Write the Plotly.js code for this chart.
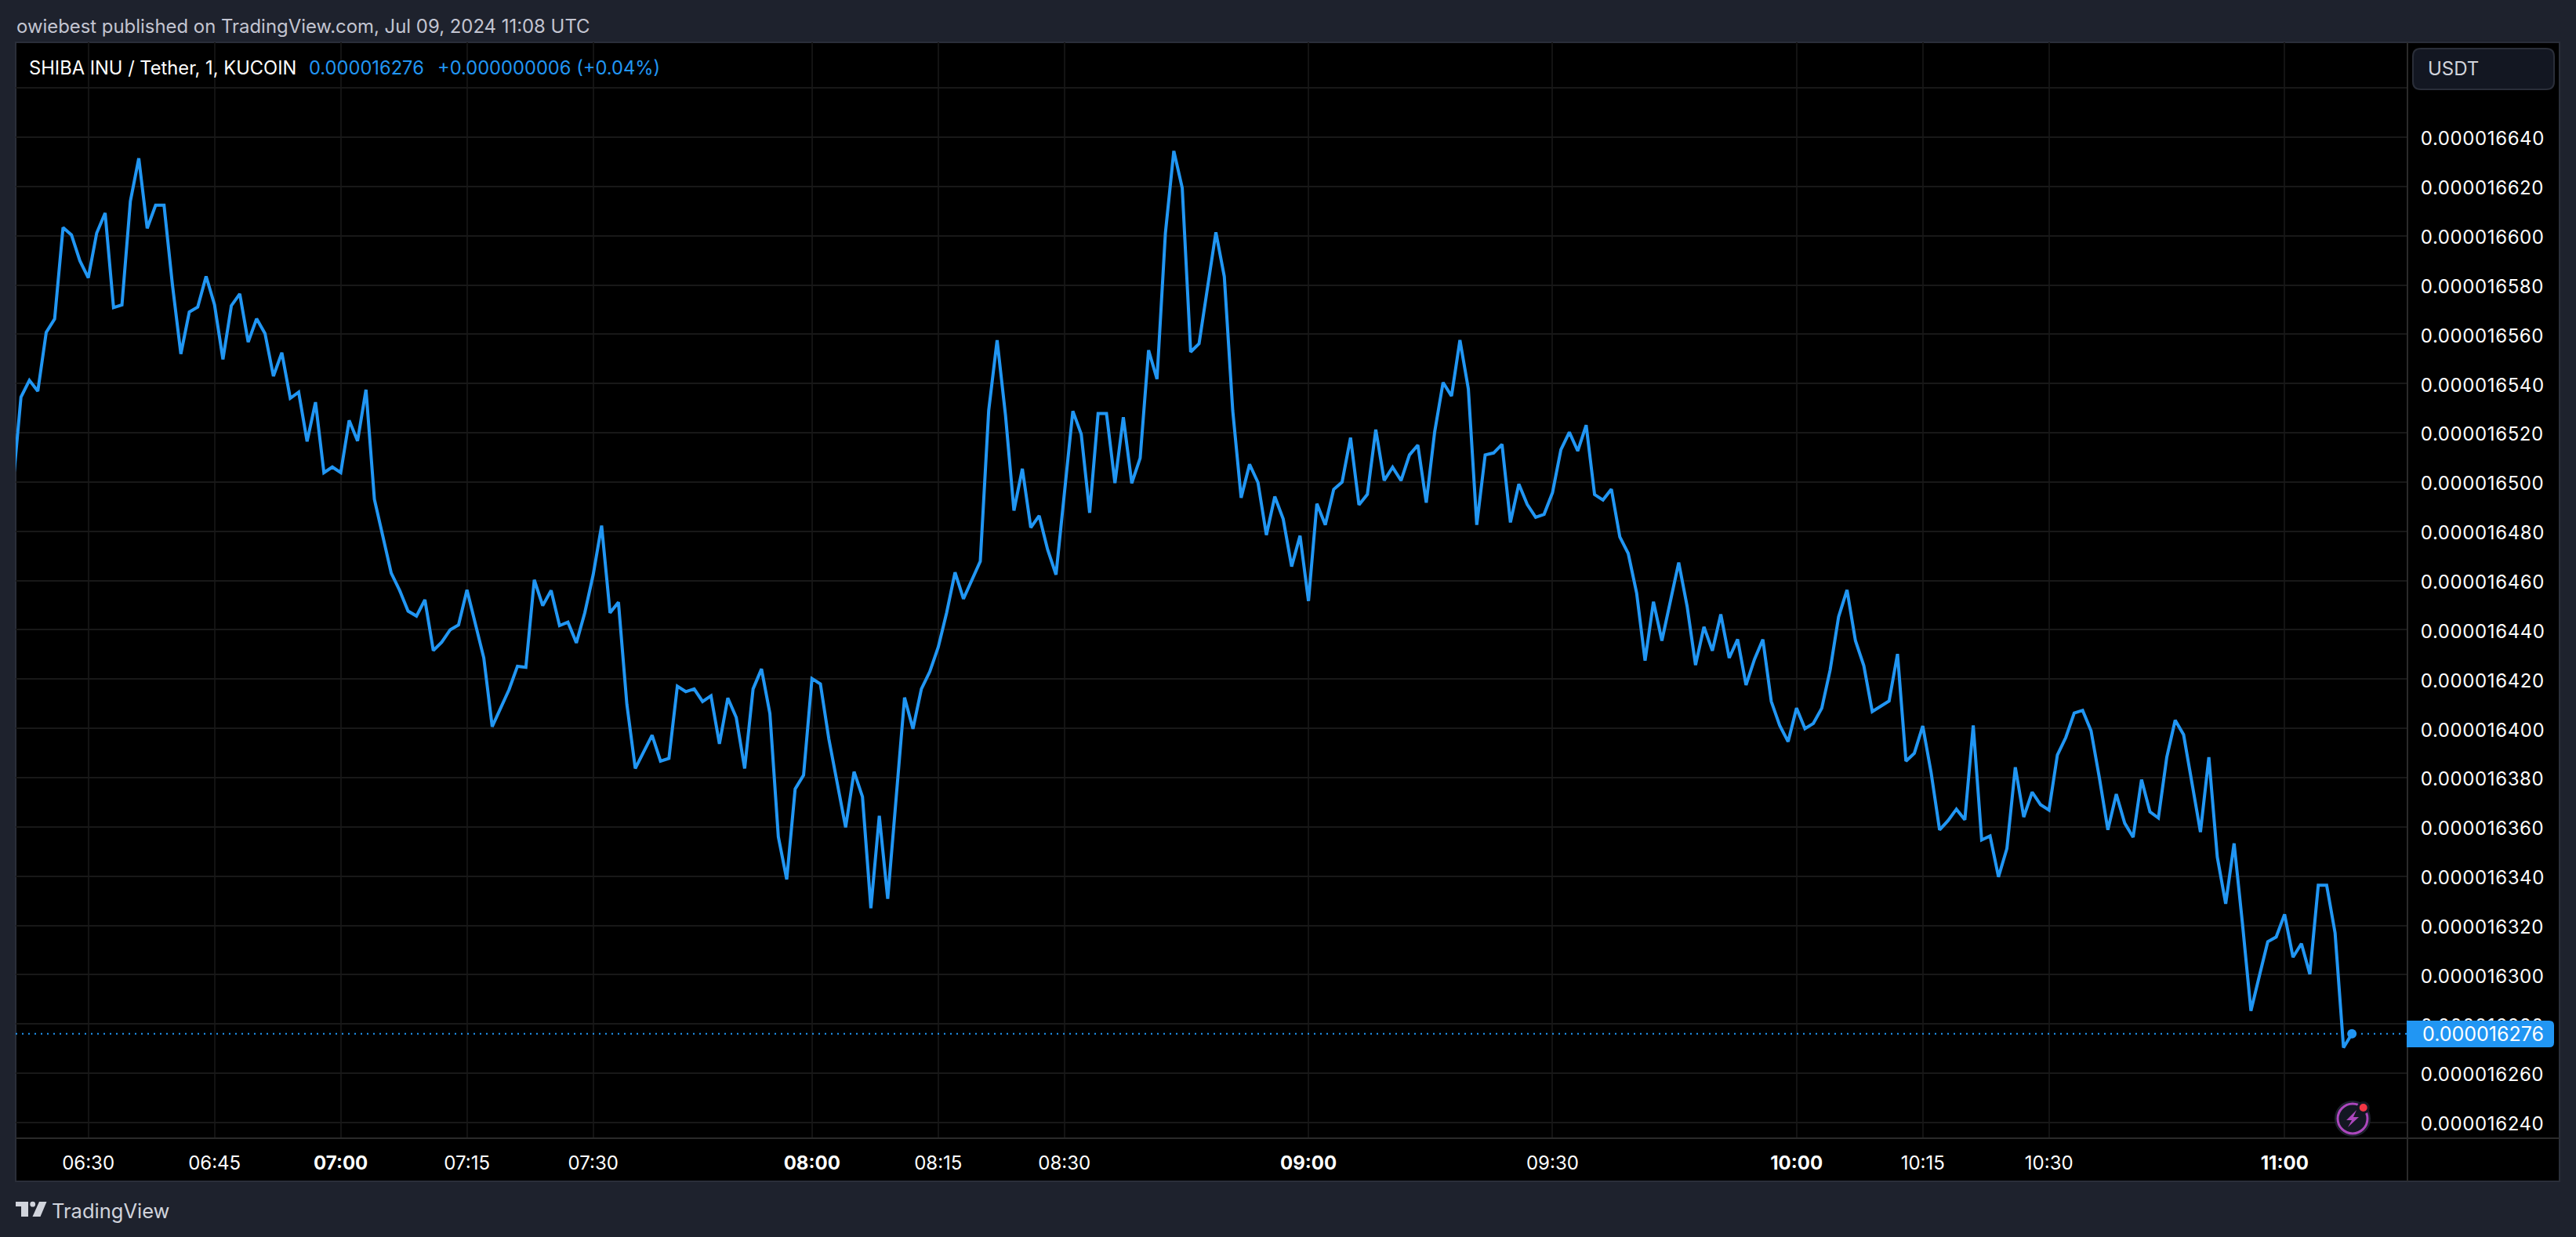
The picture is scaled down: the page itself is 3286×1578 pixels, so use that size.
<!DOCTYPE html>
<html>
<head>
<meta charset="utf-8">
<script src="https://cdn.plot.ly/plotly-3.0.1.min.js"></script>
<style>html,body{margin:0;padding:0;background:#1e222d;overflow:hidden}#chart{width:3286px;height:1578px}.ytick text{letter-spacing:.6px}</style>
</head>
<body>
<div id="chart"></div>
<script>
// Close of each 1-minute bar, in units of 1e-9 USDT
const closes = [
16497,16534.5,16541.3,16536.9,16560.8,16566.2,16603.3,16600.3,16589.8,16582.9,
16601.1,16609.2,16570.8,16571.9,16614,16631.4,16603,16612.4,16612.4,16580,
16552,16569,16571,16583.5,16572,16549.8,16571.6,16576.4,16556.8,16566.3,
16560.3,16543,16552.5,16534,16536.5,16516.5,16532.4,16503.8,16506.1,16503.8,
16525,16516.7,16537.5,16493,16478,16463,16456,16447.6,16445.6,16452.2,
16431.6,16435,16440,16442,16456.2,16442,16428.6,16400.7,16408,16415.7,
16425.2,16424.8,16460.3,16449.8,16456,16441.7,16443.1,16434.7,16446.9,16462.4,
16482.3,16446.9,16451.2,16409.8,16383.7,16390.5,16397.2,16386.7,16387.8,16417.1,
16414.9,16416,16410.9,16413.2,16393.7,16412.3,16404.4,16383.7,16416,16424.1,
16406,16356,16338.7,16375.4,16381,16420.2,16418,16395.8,16377,16359.8,
16382.4,16372.2,16327,16364.5,16330.8,16370,16412.5,16399.8,16416,16423,
16432.9,16446.9,16463.3,16452.6,16460.3,16467.8,16529,16557.6,16527,16488.4,
16505.4,16481.5,16486.3,16472.6,16462.4,16494.7,16528.8,16519.4,16487.5,16527.8,
16527.8,16499.6,16526.3,16499.5,16509.7,16553.5,16541.8,16601.1,16634.4,16619.4,
16552.8,16556.2,16578.6,16601.4,16583.4,16529,16493.6,16507.2,16499.8,16478.5,
16494.1,16485,16465.7,16478.2,16451.7,16491.2,16482.6,16497,16500,16518,
16490.7,16495,16521.3,16500.6,16506,16500.6,16511,16515,16491.6,16520.4,
16540.4,16534.9,16557.6,16537.8,16482.6,16511,16511.8,16515.3,16483.6,16499.2,
16490.9,16485.7,16486.9,16495.7,16513.1,16520.2,16512.6,16523.1,16494.9,16492.7,
16497.1,16477.7,16471,16454.9,16427.5,16451.4,16435.6,16451.7,16467.3,16449.5,
16425.7,16441.2,16431.5,16446.3,16428.6,16436.1,16417.6,16428,16436.1,16410.9,
16401.2,16394.6,16408.2,16399.9,16402,16408.2,16423.8,16445.3,16456.2,16435.6,
16425.4,16406.8,16409,16411.1,16430.2,16386.7,16389.9,16401,16381.9,16358.8,
16362.5,16367.2,16362.9,16401.2,16354.7,16356.3,16339.7,16351.2,16384.2,16364,
16374.1,16369,16366.8,16389.2,16396.3,16406.2,16407.3,16399,16379.7,16358.8,
16373.3,16361.5,16355.8,16379.2,16366.1,16363.6,16388.3,16403.3,16397.4,16378.1,
16357.9,16388.3,16347.8,16328.8,16353.3,16320.5,16285.3,16299.5,16313.4,16315.3,
16324.5,16307.1,16312.6,16300.2,16336.3,16336.3,16316.9,16270.4,16276
];
const barIndex = closes.map((_, i) => i);

const timeTickBars = [9,24,39,54,69,95,110,125,154,183,212,227,242,270];
const timeTickLabels = ['06:30','06:45','<b>07:00</b>','07:15','07:30','<b>08:00</b>','08:15','08:30','<b>09:00</b>','09:30','<b>10:00</b>','10:15','10:30','<b>11:00</b>'];

const priceTicks = [16240,16260,16280,16300,16320,16340,16360,16380,16400,16420,16440,16460,16480,16500,16520,16540,16560,16580,16600,16620,16640,16660];
const priceTickLabels = priceTicks.map(p => p === 16660 ? '' : '0.0000' + p + '0'.slice(1));

const lastPrice = 16276;
const FONT = 'Inter, "Noto Sans", sans-serif';
const BLUE = '#2196f3';

// pixel helpers for the page furniture around the plot
const L = 20, R = 3071, T = 54, B = 1452;
const px = x => (x - L) / (R - L);
const py = y => (B - y) / (B - T);
function poly(pts) { return 'M' + pts.map(p => px(p[0]) + ',' + py(p[1])).join(' L') + ' Z'; }
function rrect(x0, y0, x1, y1, rl, rr) {
  const P = (x, y) => px(x) + ',' + py(y);
  return 'M' + P(x0 + rl, y0) + ' L' + P(x1 - rr, y0) + ' Q' + P(x1, y0) + ' ' + P(x1, y0 + rr) +
    ' L' + P(x1, y1 - rr) + ' Q' + P(x1, y1) + ' ' + P(x1 - rr, y1) + ' L' + P(x0 + rl, y1) +
    ' Q' + P(x0, y1) + ' ' + P(x0, y1 - rl) + ' L' + P(x0, y0 + rl) + ' Q' + P(x0, y0) + ' ' + P(x0 + rl, y0) + ' Z';
}
function circle(cx, cy, r, fill, lineColor, lineW) {
  return {type:'circle', xref:'paper', yref:'paper', x0:px(cx-r), x1:px(cx+r), y0:py(cy+r), y1:py(cy-r),
    fillcolor:fill, line:{color:lineColor||'rgba(0,0,0,0)', width:lineW||0}, layer:'above'};
}
function pathShape(path, fill, layer) {
  return {type:'path', xref:'paper', yref:'paper', path:path, fillcolor:fill, line:{width:0}, layer:layer||'above'};
}
function seg(x0, y0, x1, y1, color, w) {
  return {type:'line', xref:'paper', yref:'paper', x0:px(x0), x1:px(x1), y0:py(y0), y1:py(y1), line:{color:color, width:w}, layer:'above'};
}
function label(text, x, y, size, color, anchor) {
  return {text:text, xref:'paper', yref:'paper', x:px(x), y:py(y), xanchor:anchor||'left', yanchor:'middle',
    showarrow:false, borderpad:0, font:{family:FONT, size:size, color:color}};
}

const shapes = [
  // panel and separators
  {type:'rect', xref:'paper', yref:'paper', x0:px(20), x1:px(3265), y0:py(1507), y1:py(54), fillcolor:'#000', line:{color:'#2a2e39', width:2}, layer:'below'},
  seg(3071, 54, 3071, 1507, '#2a2a2a', 2),
  seg(20, 1452, 3265, 1452, '#2a2a2a', 2),
  // last price line
  {type:'line', xref:'paper', yref:'y', x0:0, x1:1, y0:lastPrice, y1:lastPrice, line:{color:BLUE, width:2, dash:'2px,6px'}, layer:'above'},
  // last price tag
  pathShape(rrect(3070, 1302, 3258, 1336, 0, 6), BLUE),
  // currency button
  Object.assign(pathShape(rrect(3078, 62, 3258, 114, 10, 10), '#131722'), {line:{color:'#2a2e39', width:2}}),
  // TradingView logo
  pathShape(poly([[20,1533],[36,1533],[36,1552],[27,1552],[27,1539],[20,1539]]), '#d1d4dc'),
  Object.assign(circle(41.7,1536.2,3.4,'#d1d4dc')),
  pathShape(poly([[50,1533],[59.5,1533],[51.5,1552],[41.5,1552]]), '#d1d4dc'),
  // alert badge
  circle(3001,1427,22,'#131722','#1e222d',2),
  circle(3001,1427,19,'#131722','#ab47bc',3),
  pathShape(poly([[3006,1416],[2993,1429],[3000,1429],[2995,1438],[3009,1425],[3002,1425]]), '#ab47bc'),
  circle(3014.7,1413,8,'#131722'),
  circle(3014.7,1413,5,'#f23645')
];

const annotations = [
  label('owiebest published on TradingView.com, Jul 09, 2024 11:08 UTC', 20, 33, 23.9, '#c3c5d1'),
  label('SHIBA INU / Tether, 1, KUCOIN', 36, 86, 23.7, '#ffffff'),
  label('0.000016276', 393, 86, 23.7, BLUE),
  label('+0.000000006 (+0.04%)', 557, 86, 23.7, BLUE),
  label('USDT', 3096, 87, 24, '#d1d4dc'),
  label('0.000016276', 3089, 1319, 25, '#ffffff'),
  label('TradingView', 65, 1544, 25.5, '#d1d4dc')
];

Plotly.newPlot('chart', [
  {type:'scatter', mode:'lines', x:barIndex, y:closes, line:{color:BLUE, width:4, shape:'linear'}, hoverinfo:'skip', showlegend:false},
  {type:'scatter', mode:'markers', x:[barIndex[barIndex.length-1]], y:[closes[closes.length-1]], marker:{color:BLUE, size:12}, hoverinfo:'skip', showlegend:false}
], {
  width:3286, height:1578,
  margin:{l:L, r:3286-R, t:T, b:1578-B, pad:0},
  paper_bgcolor:'#1e222d', plot_bgcolor:'#000000',
  font:{family:FONT, color:'#ffffff', size:24},
  showlegend:false,
  xaxis:{range:[0.37,284.6], tickmode:'array', tickvals:timeTickBars, ticktext:timeTickLabels,
    showgrid:true, gridcolor:'#131313', gridwidth:2, zeroline:false, showline:false,
    ticks:'outside', ticklen:10, tickcolor:'rgba(0,0,0,0)', tickfont:{family:FONT, size:24, color:'#ffffff'}},
  yaxis:{side:'right', range:[16233.6,16678.5], tickmode:'array', tickvals:priceTicks, ticktext:priceTickLabels,
    showgrid:true, gridcolor:'#181818', gridwidth:2, zeroline:false, showline:false, ticklabelshift:2,
    ticks:'outside', ticklen:11, tickcolor:'rgba(0,0,0,0)', tickfont:{family:FONT, size:24, color:'#ffffff'}},
  shapes:shapes, annotations:annotations
}, {displayModeBar:false, staticPlot:true});
</script>
</body>
</html>
